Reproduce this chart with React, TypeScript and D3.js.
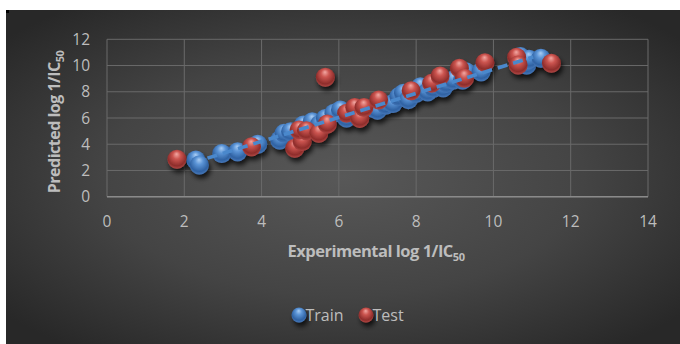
import React from "react";
import * as d3 from "d3";

const xTicks = [0, 2, 4, 6, 8, 10, 12, 14];
const yTicks = [0, 2, 4, 6, 8, 10, 12];

const trainX = [2.3, 2.39, 2.97, 3.38, 3.9, 4.47, 4.58, 4.75, 5.08, 5.31, 5.5, 5.65, 5.87, 6.04, 6.2, 6.5, 6.88, 7.0, 7.22, 7.4, 7.55, 7.67, 7.8, 8.0, 8.11, 8.3, 8.45, 8.7, 8.79, 8.96, 9.2, 9.29, 9.68, 10.7, 10.86, 10.92, 11.23];
const trainY = [2.8, 2.42, 3.3, 3.43, 4.0, 4.32, 4.83, 4.95, 5.47, 5.72, 5.5, 5.97, 6.36, 6.61, 6.0, 6.3, 6.74, 6.6, 6.99, 7.1, 7.63, 7.88, 7.4, 7.88, 8.39, 8.0, 8.26, 8.3, 8.64, 8.9, 8.9, 9.53, 9.53, 10.68, 10.04, 10.48, 10.55];

const testX = [1.81, 3.74, 5.65, 4.86, 5.05, 4.97, 5.16, 5.48, 5.7, 6.2, 6.41, 6.54, 6.65, 7.03, 7.87, 8.4, 8.62, 9.12, 9.25, 9.78, 10.6, 10.64, 11.5];
const testY = [2.85, 3.81, 9.1, 3.69, 4.2, 5.09, 5.03, 4.83, 5.54, 6.36, 6.8, 5.97, 6.8, 7.37, 8.08, 8.64, 9.2, 9.79, 9.03, 10.22, 10.63, 10.04, 10.17];

const W = 680, H = 344;
const plot = { left: 107, right: 648, top: 39.3, bottom: 196.7 };

export default function App() {
  const x = d3.scaleLinear().domain([0, 14]).range([plot.left, plot.right]);
  const y = d3.scaleLinear().domain([0, 12]).range([plot.bottom, plot.top]);

  // least squares trend of training data
  const n = trainX.length;
  const mx = d3.mean(trainX) as number;
  const my = d3.mean(trainY) as number;
  let sxy = 0, sxx = 0;
  for (let i = 0; i < n; i++) {
    sxy += (trainX[i] - mx) * (trainY[i] - my);
    sxx += (trainX[i] - mx) ** 2;
  }
  const slope = sxy / sxx;
  const icpt = my - slope * mx;
  const x0 = d3.min(trainX) as number;
  const x1 = d3.max(trainX) as number;
  const line = d3.line<number>().x((v) => x(v)).y((v) => y(icpt + slope * v));

  const font = "'Open Sans', 'Noto Sans', sans-serif";
  const tickColor = "#bdbdbd";

  const train = trainX.map((v, i) => [v, trainY[i]]);
  const test = testX.map((v, i) => [v, testY[i]]);

  return (
    <svg width={W} height={H} style={{ position: "absolute", left: 0, top: 0 }} xmlns="http://www.w3.org/2000/svg">
      <defs>
        <radialGradient id="bg" cx="50%" cy="50%" r="65%">
          <stop offset="0%" stopColor="#585858" />
          <stop offset="55%" stopColor="#444444" />
          <stop offset="100%" stopColor="#282828" />
        </radialGradient>
        <radialGradient id="blue" cx="50%" cy="40%" r="60%" fx="48%" fy="22%">
          <stop offset="0%" stopColor="#a9cdf4" />
          <stop offset="35%" stopColor="#5b94d6" />
          <stop offset="80%" stopColor="#2f62a3" />
          <stop offset="100%" stopColor="#4677b8" />
        </radialGradient>
        <radialGradient id="red" cx="50%" cy="40%" r="60%" fx="48%" fy="22%">
          <stop offset="0%" stopColor="#f2a8a3" />
          <stop offset="35%" stopColor="#cc5550" />
          <stop offset="80%" stopColor="#8e2d2b" />
          <stop offset="100%" stopColor="#b04744" />
        </radialGradient>
        <filter id="shadow" x="-50%" y="-50%" width="200%" height="220%">
          <feDropShadow dx="2" dy="4" stdDeviation="2.5" floodColor="#000" floodOpacity="0.75" />
        </filter>
      </defs>
      <rect x={0} y={0} width={W} height={H} fill="#ffffff" />
      <rect x={6} y={10} width={W - 6} height={H - 10} fill="url(#bg)" />
      <rect x={6} y={10} width={3} height={3} fill="#000" />

      {/* grid */}
      {xTicks.map((t) => (
        <line key={"gx" + t} x1={x(t)} x2={x(t)} y1={plot.top} y2={plot.bottom} stroke="#6a6a6a" strokeWidth={1} />
      ))}
      {yTicks.map((t) => (
        <line key={"gy" + t} x1={plot.left} x2={plot.right} y1={y(t)} y2={y(t)} stroke="#6a6a6a" strokeWidth={1} />
      ))}
      <line x1={plot.left} x2={plot.right} y1={y(0)} y2={y(0)} stroke="#8a8a8a" strokeWidth={1.5} />

      {/* ticks */}
      {xTicks.map((t) => (
        <text key={"tx" + t} x={x(t)} y={227} textAnchor="middle" fontFamily={font} fontSize={15.5} fill={tickColor}>
          {t}
        </text>
      ))}
      {yTicks.map((t) => (
        <text key={"ty" + t} x={90} y={y(t) + 5.5} textAnchor="end" fontFamily={font} fontSize={15.5} fill={tickColor}>
          {t}
        </text>
      ))}

      {/* axis titles */}
      <text x={376} y={257} textAnchor="middle" fontFamily={font} fontSize={16.5} fontWeight="bold" fill={tickColor} letterSpacing={-0.5}>
        Experimental log 1/IC<tspan fontSize={11} dy={4}>50</tspan>
      </text>
      <text transform={`translate(60, ${(plot.top + plot.bottom) / 2 + 4}) rotate(-90)`} textAnchor="middle" fontFamily={font} fontSize={16} fontWeight="bold" fill={tickColor} letterSpacing={-0.5}>
        Predicted log 1/IC<tspan fontSize={11} dy={4}>50</tspan>
      </text>

      {/* points */}
      <g filter="url(#shadow)">
        {train.map((d, i) => (
          <circle key={"tr" + i} cx={x(d[0])} cy={y(d[1])} r={9.5} fill="url(#blue)" />
        ))}
        {test.map((d, i) => (
          <circle key={"te" + i} cx={x(d[0])} cy={y(d[1])} r={9.5} fill="url(#red)" />
        ))}
      </g>

      {/* trend */}
      <path d={line([x0 + 0.3, x1 - 0.2]) as string} stroke="#4a88cc" strokeWidth={3.6} strokeDasharray="10,6" fill="none" />

      {/* legend */}
      <g filter="url(#shadow)">
        <circle cx={299} cy={315} r={7.5} fill="url(#blue)" />
        <circle cx={366} cy={315} r={7.5} fill="url(#red)" />
      </g>
      <text x={305.5} y={320.5} fontFamily={font} fontSize={16} fill={tickColor}>Train</text>
      <text x={372.5} y={320.5} fontFamily={font} fontSize={16} fill={tickColor}>Test</text>
    </svg>
  );
}
